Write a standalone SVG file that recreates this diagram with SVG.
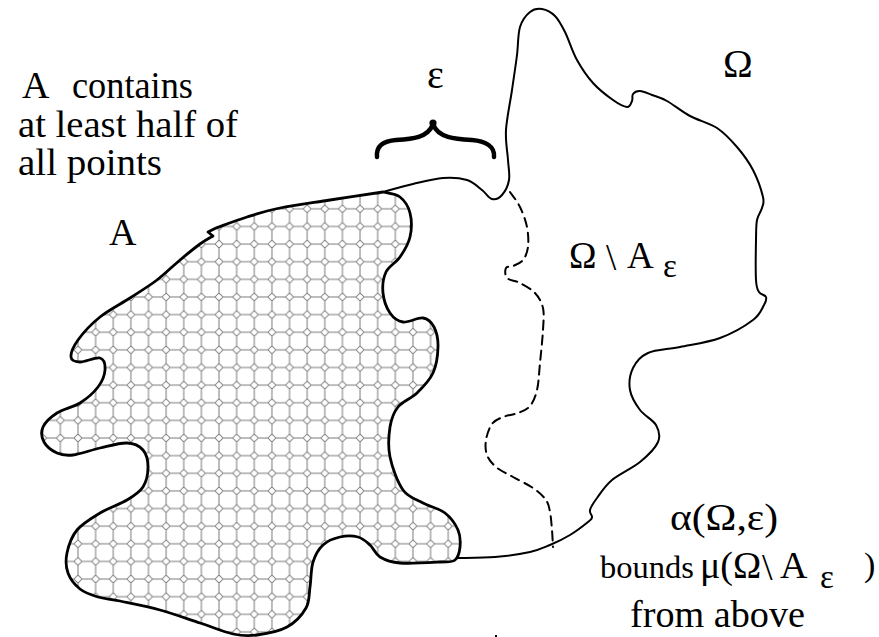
<svg xmlns="http://www.w3.org/2000/svg" width="879" height="637" viewBox="0 0 879 637">
  <defs>
    <!-- octagon-and-diamond tiling used to shade region A -->
    <pattern id="octagons" patternUnits="userSpaceOnUse" x="210.2" y="252.9" width="17.63" height="17.63">
      <path d="M0,8.815 H4.8 M12.83,8.815 H17.63 M8.815,0 V4.8 M8.815,12.83 V17.63 M4.8,8.815 L8.815,4.8 L12.83,8.815 L8.815,12.83 Z" fill="none" stroke="#7a7a7a" stroke-width="1"/>
    </pattern>
  </defs>
  <style>
    .serif { font-family: "Liberation Serif", "Times New Roman", serif; fill: #000; }
    .edge { fill: none; stroke: #000; stroke-linejoin: round; stroke-linecap: round; }
  </style>
  <rect width="879" height="637" fill="#fff"/>

  <!-- region A: shaded set -->
  <g id="region-A">
    <path class="edge" style="fill:url(#octagons)" stroke-width="2.8" d="M383,192 C385.8,192.8 395.5,193.5 400,197 S408.3,206.3 410,213 S411.7,229.7 410,237 S404,251.2 400,257 S388.8,266 386,272 S382.3,286.2 383,293 S386.7,308.2 390,313 S397.5,321.2 403,322 S417.8,317.2 423,318 S431.5,322.2 434,327 S438.2,339.3 438,347 S436.5,365.3 433,373 S422.8,387.3 417,393 S402.5,401.3 398,407 S391.3,418.7 390,427 S387.8,446.5 390,457 S397.5,482.3 403,490 S416,499.2 423,503 S439.2,508.5 445,513 S455.5,524.3 458,530 S460.5,542 460,547 S458.3,557.5 455,560 S449.2,561.5 440,562 S410,563.8 400,563 S385,560 380,557 S373.7,548.3 370,545 S363,538.3 358,537 S345.8,535.7 340,537 S327.5,540.8 323,545 S315.2,555 313,562 S311.2,579.3 310,587 S309.8,601.3 306,608 S295.2,622.5 287,627 S266,633.8 257,635 S242.5,636 233,634 S212.2,627 200,623 S173.3,613.7 160,610 S130.3,603.2 120,601 S104.7,599 98,597 S85,593 80,589 S70.2,579 68,573 S65.5,560.2 67,553 S71.5,536.7 77,530 S91.7,518 100,513 S119.8,504.3 127,500 S139.5,492.5 143,487 S148,473.2 148,467 S146.5,454 143,450 S134.2,443.3 127,443 S109,446 100,448 S80.2,454.2 73,455 S61.8,455.2 57,453 S46.3,446.3 44,442 S40.8,431.8 43,427 S50.8,417 57,413 S73.2,407.3 80,403 S93.8,392.5 98,387 S104.7,374.8 105,370 S104.2,359.3 100,358 S84.8,362.2 80,362 S71.3,360.7 71,357 S73.2,346.7 78,340 S91.3,324 100,317 S120.5,304.2 130,298 S148.7,286.3 157,280 S172.8,266 180,260 S194.5,248 200,244 S210.8,237.3 213,236 L208,232 L216,228 C221.2,226.2 236.3,220.3 247,217 S266.2,210.8 280,208 S312.8,202.7 330,200 S374.2,193.3 383,192 Z"/>
  </g>

  <!-- region Omega: remaining outer boundary -->
  <g id="region-omega">
    <path class="edge" stroke-width="2" d="M383,192 C388,190.7 403,186.3 413,184 S434,178.7 443,178 S460.5,178 467,180 S477.8,186.8 482,190 S488.7,198.2 492,199 S499.2,198.2 502,195 S508,185.8 509,180 S508.5,168.3 508,160 S505.3,141.7 506,130 S510.2,102.5 512,90 S515.7,65.5 517,55 S517.8,34.2 520,27 S526.3,15 530,12 S537.8,8.3 542,9 S551.2,12.2 555,16 S561.3,24.7 565,32 S572.3,51.5 577,60 S587,76.3 593,83 S607.3,96 613,100 S623.8,106.8 627,107 S631,103.2 632,101 S631.7,95.7 633,94 S636.8,90.8 640,91 S647.5,93.3 652,95 S660.7,97.5 667,101 S681.7,111.5 690,116 S709.2,122.8 717,128 S731,140 737,147 S748.7,161.7 753,170 S761.5,190.7 763,197 S763,204.2 762,208 S758,214.7 757,220 S756.2,230 756,240 S755.5,271.3 756,280 S757.3,289.2 759,292 S765.2,294.8 766,297 S766.2,301.2 764,305 S760.3,314.5 753,320 S732.2,333.5 720,338 S692,344.5 680,347 S655.8,349.5 648,353 S636,361.8 633,368 S628.8,383 630,390 S635.7,404.2 640,410 S653,419.7 656,425 S660.7,435.8 658,442 S647.7,455.7 640,462 S619.2,474 612,480 S600.7,493 597,498 S590.8,506.8 590,510 S592.3,515 592,517 S591.7,519 588,522 S576.3,531.2 570,535 S556.7,542.2 550,545 S539.2,550 530,552 S507.2,556 495,557 S463.3,557.8 457,558"/>
  </g>

  <!-- boundary of the epsilon-neighbourhood A_eps -->
  <g id="boundary-eps">
    <path class="edge" stroke-width="2" stroke-linecap="butt" stroke-dasharray="9 6" d="M510,192 C511.7,194.5 517.2,201.2 520,207 S525.7,220.3 527,227 S528.7,241.5 528,247 S525.5,256.8 523,260 S515.8,264.7 513,266 S507,266 506,268 S504.7,275.5 507,278 S515.3,280.5 520,283 S531.2,288.8 535,293 S541.7,301.8 543,308 S543.5,320.8 543,330 S541,353 540,363 S538.7,382.8 537,390 S533.2,402.2 530,406 S522.5,411.2 518,413 S507.3,415.2 503,417 S494.8,420.2 492,424 S486.8,434.8 486,440 S485.3,450.5 487,455 S491.7,463.3 496,467 S506.8,473.5 513,477 S527.5,484.2 533,488 S543.2,496 546,500 S549,507 550,512 S551.5,524.2 552,530 S552.8,544.2 553,547"/>
  </g>

  <!-- brace marking the width epsilon -->
  <g id="brace">
    <path class="edge" stroke-width="4.5" stroke-linecap="butt" d="M377,157 C376,146 383,141 396,140 C412,139 428,138 433,124 C438,138 455,139 472,140 C485,141 495,146 494,157"/>
    <circle cx="433" cy="123" r="3.6" fill="#000"/>
    <text class="serif" x="427" y="88" font-size="40">ε</text>
  </g>

  <!-- labels -->
  <g id="label-A-note" class="serif" font-size="38">
    <text x="22" y="98">A</text>
    <text x="72" y="98" textLength="121" lengthAdjust="spacingAndGlyphs">contains</text>
    <text x="18" y="137" textLength="220" lengthAdjust="spacingAndGlyphs">at least half of</text>
    <text x="18" y="175" textLength="144" lengthAdjust="spacingAndGlyphs">all points</text>
  </g>
  <g id="label-A" class="serif" font-size="38">
    <text x="109" y="245">A</text>
  </g>
  <g id="label-omega" class="serif" font-size="40">
    <text x="723" y="77">Ω</text>
  </g>
  <g id="label-omega-minus" class="serif" font-size="37">
    <text x="569" y="268">Ω</text>
    <text x="606" y="270">\</text>
    <text x="627" y="268">A</text>
    <text x="663" y="277" font-size="33">ε</text>
  </g>
  <g id="label-bound" class="serif" font-size="38">
    <text x="670" y="530" textLength="108" lengthAdjust="spacingAndGlyphs">α(Ω,ε)</text>
    <text x="600" y="578"><tspan font-size="32.5">bounds</tspan><tspan x="700">μ(Ω</tspan><tspan x="762" dy="2">\</tspan><tspan x="780" dy="-2">A</tspan></text>
    <text x="820" y="588" font-size="33">ε</text>
    <text x="864" y="576" font-size="34">)</text>
    <text x="630" y="627" textLength="175" lengthAdjust="spacingAndGlyphs">from above</text>
  </g>
  <rect x="495" y="635" width="2" height="2" fill="#000"/>
</svg>
